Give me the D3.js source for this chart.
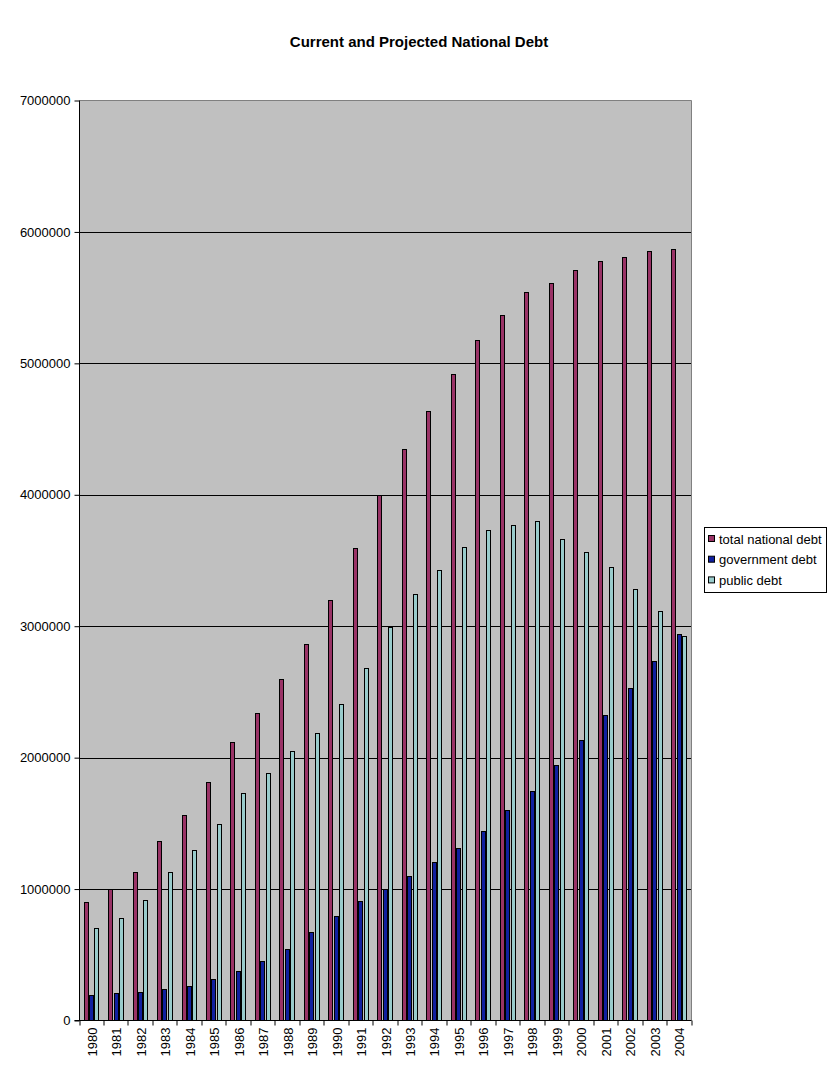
<!DOCTYPE html>
<html><head><meta charset="utf-8">
<script src="https://cdn.jsdelivr.net/npm/d3@7"></script>
<style>body{margin:0;background:#fff}svg{display:block}</style>
</head><body>
<svg id="c" width="838" height="1078"></svg>
<script>
const years = ["1980","1981","1982","1983","1984","1985","1986","1987","1988","1989","1990","1991","1992","1993","1994","1995","1996","1997","1998","1999","2000","2001","2002","2003","2004"];
const totalDebt = [903000,1000000,1131000,1367000,1565000,1816000,2120000,2341000,2600000,2866000,3201000,3596000,4000000,4350000,4639000,4920000,5179000,5369000,5544000,5613000,5712000,5780000,5811000,5856000,5872000];
const governmentDebt = [195000,210000,218000,241000,264000,317000,378000,454000,544000,675000,797000,908000,1000000,1101000,1207000,1314000,1443000,1598000,1748000,1946000,2138000,2328000,2531000,2737000,2942000];
const publicDebt = [705000,781000,918000,1131000,1299000,1497000,1732000,1885000,2052000,2189000,2410000,2681000,2993000,3247000,3429000,3604000,3733000,3771000,3797000,3665000,3566000,3452000,3285000,3117000,2927000];
const seriesNames = ["total national debt","government debt","public debt"];
const seriesColors = ["#993366","#1020a0","#99cccc"];
const yTicks = [0,1000000,2000000,3000000,4000000,5000000,6000000,7000000];

const svg = d3.select("#c");
const L=79.5, R=691.5, T=100.5, B=1020.5;
const font = "'Liberation Sans', Arial, sans-serif";

svg.append("text").attr("x",419).attr("y",47).attr("text-anchor","middle")
  .attr("font-family",font).attr("font-weight","bold").attr("font-size",15).text("Current and Projected National Debt");

const x = d3.scaleBand().domain(years).range([L,R]).paddingInner(0).paddingOuter(0);
const y = d3.scaleLinear().domain([0,7000000]).range([B,T]);
const bw = x.bandwidth()/4.5;

svg.append("rect").attr("x",L).attr("y",T).attr("width",R-L).attr("height",B-T).attr("fill","#c0c0c0");

svg.append("g").selectAll("line").data(yTicks.filter(d=>d>0&&d<7000000)).join("line")
  .attr("x1",L).attr("x2",R).attr("y1",d=>Math.round(y(d))+0.5).attr("y2",d=>Math.round(y(d))+0.5)
  .attr("stroke","#000").attr("stroke-width",1);

svg.append("path").attr("d",`M${L},${T}H${R}V${B}`).attr("fill","none").attr("stroke","#808080");

const series = [totalDebt, governmentDebt, publicDebt];
series.forEach((vals,si)=>{
  svg.append("g").selectAll("rect").data(vals).join("rect")
    .attr("x",(d,i)=>Math.round(x(years[i]) + bw*0.75 + si*bw)+0.5)
    .attr("y",d=>Math.round(y(d))+0.5)
    .attr("width",Math.round(bw)-1)
    .attr("height",d=>B-0.5-Math.round(y(d)))
    .attr("fill",seriesColors[si]).attr("stroke","#000").attr("stroke-width",1);
});

const ya = svg.append("g").attr("transform",`translate(${L},0)`)
  .call(d3.axisLeft(y).tickValues(yTicks).tickSize(5).tickFormat(d3.format("d")));
ya.select(".domain").attr("d",`M0,${T}V${B}`).attr("stroke","#000");
ya.selectAll("text").attr("font-family",font).attr("font-size",13).attr("fill","#000").attr("dx",-1);
ya.selectAll("line").attr("stroke","#000");

const xa = svg.append("g").attr("transform",`translate(0,${B})`);
xa.append("line").attr("x1",L-5).attr("x2",R).attr("stroke","#000");
xa.selectAll("line.t").data(years.concat(["end"])).join("line").attr("class","t")
  .attr("x1",(d,i)=>Math.round(L+i*x.step())).attr("x2",(d,i)=>Math.round(L+i*x.step()))
  .attr("y1",0).attr("y2",5).attr("stroke","#000");
xa.selectAll("text").data(years).join("text")
  .attr("transform",d=>`translate(${x(d)+x.bandwidth()/2+5},7) rotate(-90)`)
  .attr("text-anchor","end").attr("font-family",font).attr("font-size",13).text(d=>d);

const lg = svg.append("g");
lg.append("rect").attr("x",704.5).attr("y",527.5).attr("width",122).attr("height",65).attr("fill","#fff").attr("stroke","#000");
seriesNames.forEach((n,i)=>{
  lg.append("rect").attr("x",708.5).attr("y",535.5+i*20.7).attr("width",6).attr("height",6).attr("fill",seriesColors[i]).attr("stroke","#000");
  lg.append("text").attr("x",719).attr("y",543.5+i*20.7).attr("font-family",font).attr("font-size",13).text(n);
});
</script>
</body></html>
